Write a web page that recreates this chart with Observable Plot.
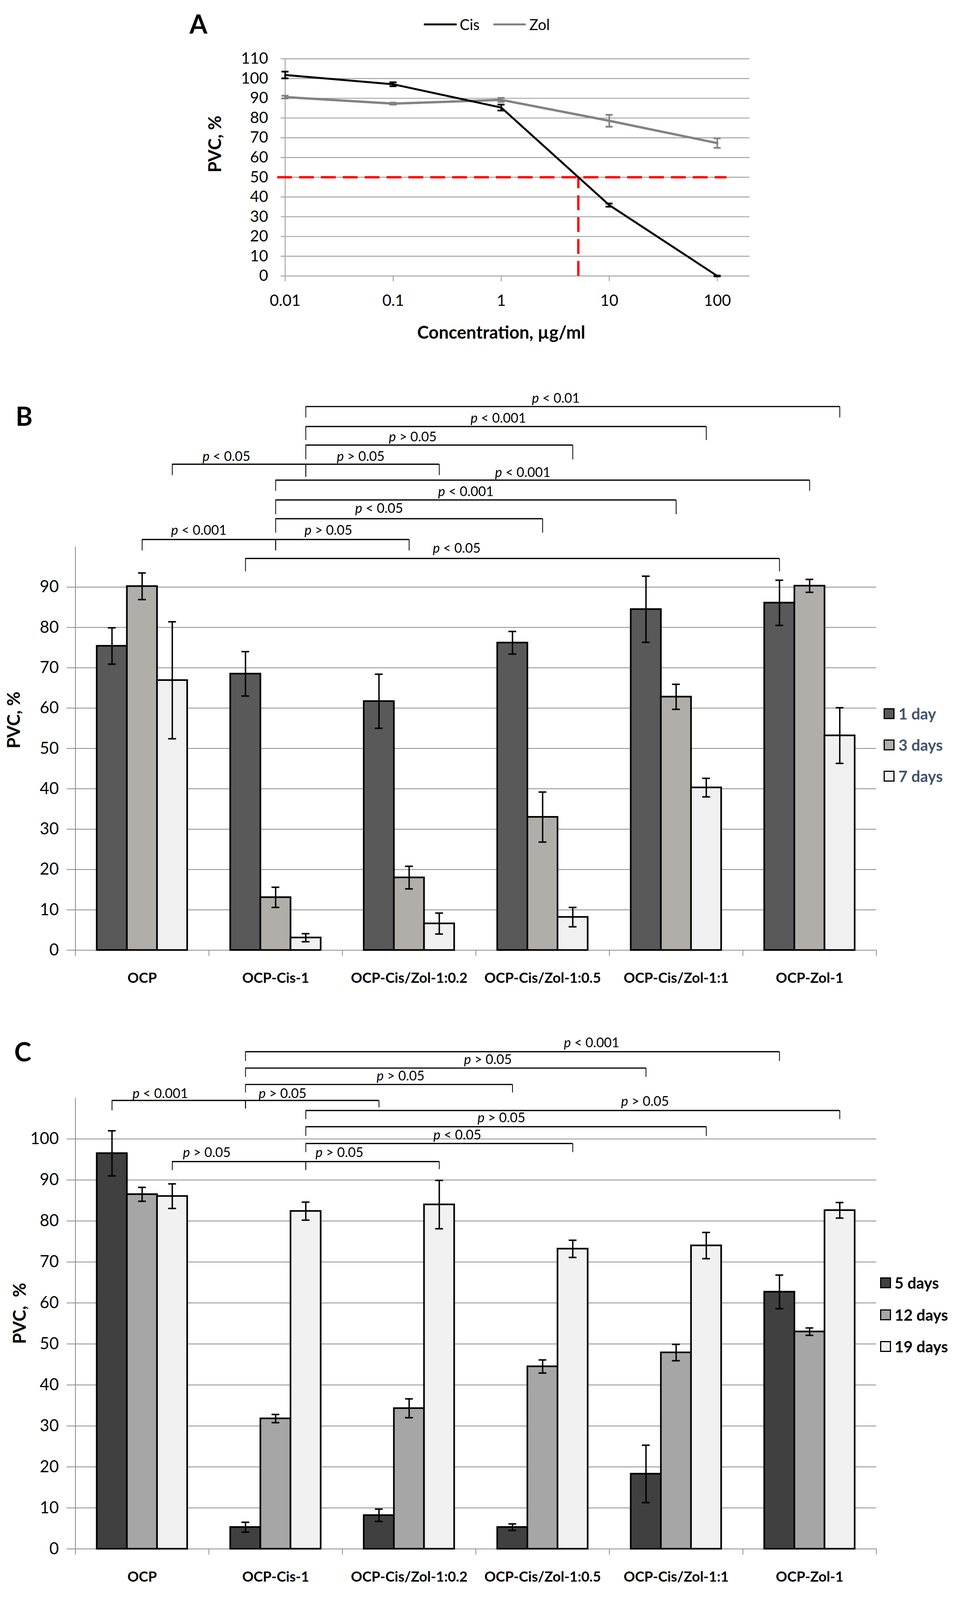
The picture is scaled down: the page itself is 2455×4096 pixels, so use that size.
<!DOCTYPE html>
<html>
<head>
<meta charset="utf-8">
<script src="https://cdn.jsdelivr.net/npm/d3@7"></script>
<script src="https://cdn.jsdelivr.net/npm/@observablehq/plot@0.6"></script>
<style>
  html, body { margin: 0; padding: 0; background: #fff; }
  #page { position: relative; width: 2455px; height: 4096px; background: #fff; overflow: hidden; font-family: Lato, sans-serif; }
  #page svg { overflow: visible; }
</style>
</head>
<body>
<div id="page"></div>
<script>
// ================= DATA =================
// Panel A: viability vs concentration (log scale)
const concentrations = [0.01, 0.1, 1, 10, 100];
const concLabels = ["0.01", "0.1", "1", "10", "100"];
const drugNames = ["Cis", "Zol"];
const cisMean = [101.8, 97.1, 85.3, 35.9, 0];
const cisErr  = [1.7, 1.0, 1.5, 0.8, 0.2];
const zolMean = [90.6, 87.3, 89.2, 78.6, 67.3];
const zolErr  = [0.7, 0.5, 1.0, 3.0, 2.4];
const ic50Cis = 5.17;     // concentration where Cis reaches 50 %
const halfLevel = 50;
const yTicksA = [0, 10, 20, 30, 40, 50, 60, 70, 80, 90, 100, 110];

// Shared categories for panels B and C
const categories = ["OCP", "OCP-Cis-1", "OCP-Cis/Zol-1:0.2", "OCP-Cis/Zol-1:0.5", "OCP-Cis/Zol-1:1", "OCP-Zol-1"];

// Panel B
const seriesB = ["1 day", "3 days", "7 days"];
const b1day    = [75.4, 68.5, 61.7, 76.2, 84.5, 86.1];
const b1dayErr = [4.5, 5.5, 6.7, 2.8, 8.2, 5.6];
const b3day    = [90.2, 13.1, 18.0, 33.0, 62.8, 90.3];
const b3dayErr = [3.3, 2.5, 2.8, 6.2, 3.1, 1.6];
const b7day    = [66.9, 3.1, 6.6, 8.2, 40.3, 53.2];
const b7dayErr = [14.5, 1.0, 2.6, 2.4, 2.3, 6.9];
const yTicksB = [0, 10, 20, 30, 40, 50, 60, 70, 80, 90];
// brackets: [category, series] at each end, bracket level, leg ends, label, label anchor
const bracketsB = [
  {from: [1, 2], to: [5, 2], y: 134.75, legFrom: 132.0, legTo: 132.0, label: "p < 0.01",  lx: 3.599, ly: 136.7},
  {from: [1, 2], to: [4, 2], y: 129.8,  legFrom: 126.4, legTo: 126.4, label: "p < 0.001", lx: 3.168, ly: 131.85},
  {from: [1, 2], to: [3, 2], y: 125.2,  legFrom: 121.6, legTo: 121.6, label: "p > 0.05",  lx: 2.527, ly: 127.15},
  {from: [0, 2], to: [1, 2], y: 120.45, legFrom: 117.7, legTo: 117.3, label: "p < 0.05",  lx: 1.131, ly: 122.3},
  {from: [1, 2], to: [2, 2], y: 120.45, legFrom: 117.3, legTo: 117.7, label: "p > 0.05",  lx: 2.137, ly: 122.3},
  {from: [1, 1], to: [5, 1], y: 116.5,  legFrom: 113.8, legTo: 113.8, label: "p < 0.001", lx: 3.351, ly: 118.35},
  {from: [1, 1], to: [4, 1], y: 111.6,  legFrom: 108.0, legTo: 108.0, label: "p < 0.001", lx: 2.925, ly: 113.65},
  {from: [1, 1], to: [3, 1], y: 106.95, legFrom: 103.45, legTo: 103.45, label: "p < 0.05", lx: 2.275, ly: 109.4},
  {from: [0, 1], to: [1, 1], y: 101.8,  legFrom: 99.05, legTo: 99.05, label: "p < 0.001", lx: 0.925, ly: 104.05},
  {from: [1, 1], to: [2, 1], y: 101.8,  legFrom: 99.05, legTo: 99.05, label: "p > 0.05",  lx: 1.895, ly: 104.05},
  {from: [1, 0], to: [5, 0], y: 97.1,   legFrom: 93.85, legTo: 93.85, label: "p < 0.05",  lx: 2.856, ly: 99.6}
];

// Panel C
const seriesC = ["5 days", "12 days", "19 days"];
const c5day     = [96.5, 5.3, 8.2, 5.3, 18.3, 62.7];
const c5dayErr  = [5.5, 1.2, 1.5, 0.8, 7.0, 4.1];
const c12day    = [86.5, 31.8, 34.3, 44.5, 47.9, 53.0];
const c12dayErr = [1.7, 1.0, 2.3, 1.6, 2.0, 0.9];
const c19day    = [86.05, 82.4, 84.0, 73.2, 74.0, 82.6];
const c19dayErr = [3.0, 2.2, 5.9, 2.1, 3.2, 1.9];
const yTicksC = [0, 10, 20, 30, 40, 50, 60, 70, 80, 90, 100];
const bracketsC = [
  {from: [1, 0], to: [5, 0], y: 121.3, legFrom: 119.0, legTo: 119.0, label: "p < 0.001", lx: 3.867, ly: 123.4},
  {from: [1, 0], to: [4, 0], y: 117.3, legFrom: 115.1, legTo: 115.1, label: "p > 0.05",  lx: 3.090, ly: 119.3},
  {from: [1, 0], to: [3, 0], y: 113.3, legFrom: 111.3, legTo: 111.3, label: "p > 0.05",  lx: 2.436, ly: 115.35},
  {from: [0, 0], to: [1, 0], y: 109.4, legFrom: 106.95, legTo: 107.4, label: "p < 0.001", lx: 0.636, ly: 111.05},
  {from: [1, 0], to: [2, 0], y: 109.4, legFrom: 107.4, legTo: 107.65, label: "p > 0.05", lx: 1.552, ly: 111.05},
  {from: [1, 2], to: [5, 2], y: 106.95, legFrom: 104.8, legTo: 104.8, label: "p > 0.05", lx: 4.267, ly: 109.1},
  {from: [1, 2], to: [4, 2], y: 103.0, legFrom: 100.7, legTo: 100.7, label: "p > 0.05",  lx: 3.191, ly: 105.1},
  {from: [1, 2], to: [3, 2], y: 98.9,  legFrom: 96.75, legTo: 96.75, label: "p < 0.05",  lx: 2.861, ly: 100.9},
  {from: [0, 2], to: [1, 2], y: 94.5,  legFrom: 92.35, legTo: 92.35, label: "p > 0.05",  lx: 0.984, ly: 96.65},
  {from: [1, 2], to: [2, 2], y: 94.5,  legFrom: 92.6,  legTo: 92.6,  label: "p > 0.05",  lx: 1.978, ly: 96.65}
];

// ================= STYLE / LAYOUT =================
const FONT = "Lato, 'Open Sans', sans-serif";
const colorsB = ["#595959", "#afaea9", "#f0f0f0"];
const colorsC = ["#404040", "#a6a6a6", "#f1f1f1"];
const gridColor = "#8a8a8a";
const gridA = "#a3a3a3";
const barW = 0.2258;   // bar width as fraction of a category slot

const page = document.getElementById("page");

function placeSvg(svg, top) {
  svg.style.position = "absolute";
  svg.style.left = "0px";
  svg.style.top = top + "px";
  page.appendChild(svg);
}
function htmlText(txt, o) {
  const d = document.createElement("div");
  d.textContent = txt;
  Object.assign(d.style, {
    position: "absolute", top: o.cy + "px", left: (o.cx != null ? o.cx : o.left) + "px",
    fontSize: o.size + "px", lineHeight: o.size + "px", fontWeight: o.weight || "normal",
    color: o.color || "#000", whiteSpace: "pre", fontFamily: FONT,
    transform: o.cx != null ? "translate(-50%,-50%)" : "translate(0,-50%)"
  });
  page.appendChild(d);
}
function htmlBox(o) {
  const d = document.createElement("div");
  Object.assign(d.style, {position: "absolute", left: o.left + "px", top: o.top + "px",
    width: o.w + "px", height: o.h + "px", background: o.bg, border: o.border || "none", boxSizing: "border-box"});
  page.appendChild(d);
}
function italicP(svg) {
  svg.querySelectorAll("text").forEach(t => {
    const s = t.textContent;
    if (/^p [<>]/.test(s)) {
      t.textContent = "";
      const ns = "http://www.w3.org/2000/svg";
      const a = document.createElementNS(ns, "tspan");
      a.setAttribute("font-style", "italic");
      a.textContent = "p";
      const b = document.createElementNS(ns, "tspan");
      b.textContent = s.slice(1);
      t.appendChild(a); t.appendChild(b);
      t.setAttribute("style", "white-space: pre");
    }
  });
}

// ================= PANEL A =================
const ptsCis = concentrations.map((c, i) => ({drug: drugNames[0], c, v: cisMean[i], e: cisErr[i]}));
const ptsZol = concentrations.map((c, i) => ({drug: drugNames[1], c, v: zolMean[i], e: zolErr[i]}));
function errA(pts, color) {
  return [
    Plot.ruleX(pts, {x: "c", y1: d => d.v - d.e, y2: d => d.v + d.e, stroke: color, strokeWidth: 4}),
    Plot.ruleY(pts, {y: d => d.v + d.e, x1: "c", x2: "c", insetLeft: -9, insetRight: -9, stroke: color, strokeWidth: 4.5}),
    Plot.ruleY(pts, {y: d => d.v - d.e, x1: "c", x2: "c", insetLeft: -9, insetRight: -9, stroke: color, strokeWidth: 4.5})
  ];
}
const plotA = Plot.plot({
  width: 2455, height: 960,
  marginLeft: 729.5, marginRight: 619.2, marginTop: 150, marginBottom: 254,
  x: {type: "log", domain: [concentrations[0], concentrations[4]]},
  y: {domain: [0, 110]},
  style: {fontFamily: FONT, fontSize: "40px", color: "#000", background: "transparent", overflow: "visible"},
  marks: [
    Plot.ruleY(yTicksA, {stroke: gridA, strokeWidth: 2.4, insetLeft: -11, insetRight: -83}),
    Plot.ruleX([concentrations[0]], {y1: 0, y2: 110, stroke: gridA, strokeWidth: 2.4}),
    Plot.axisX({ticks: concentrations, tickFormat: d => concLabels[concentrations.indexOf(d)], tickSize: 14, tickPadding: 34, stroke: gridA, strokeWidth: 2.4, label: null, fontSize: 40}),
    Plot.axisY({ticks: yTicksA, tickSize: 0, tickPadding: 43.5, label: null, fontSize: 40}),
    Plot.ruleY([halfLevel], {x1: concentrations[0], x2: concentrations[4], stroke: "#ff0000", strokeWidth: 6, strokeDasharray: "38,18", insetLeft: -20, insetRight: -24}),
    Plot.ruleX([ic50Cis], {y1: 0, y2: halfLevel, stroke: "#ff0000", strokeWidth: 6, strokeDasharray: "38,18"}),
    Plot.line(ptsZol, {x: "c", y: "v", stroke: "#828282", strokeWidth: 6}),
    Plot.line(ptsCis, {x: "c", y: "v", stroke: "#000", strokeWidth: 5}),
    ...errA(ptsZol, "#828282"),
    ...errA(ptsCis, "#000"),
    Plot.text(["PVC, %"], {text: d => d, frameAnchor: "left", dx: -178.5, dy: 13, rotate: -90, fontWeight: "bold", fontSize: 45, fill: "#000"}),
    Plot.text(["Concentration, µg/ml"], {text: d => d, x: 1, frameAnchor: "bottom", dy: 146, fontWeight: "bold", fontSize: 45, lineAnchor: "middle", fill: "#000"})
  ]
});
placeSvg(plotA, 0);

// Panel A legend + letter
htmlText("A", {cx: 508, cy: 61, size: 66, weight: "bold"});
htmlBox({left: 1084.6, top: 60, w: 84.4, h: 4.5, bg: "#000"});
htmlText(drugNames[0], {left: 1176.8, cy: 62, size: 38});
htmlBox({left: 1262.5, top: 59.5, w: 83, h: 5.5, bg: "#828282"});
htmlText(drugNames[1], {left: 1355, cy: 62, size: 38});

// ================= BAR PANELS =================
function makeBars(seriesNames, vals, errs) {
  const out = [];
  categories.forEach((cat, i) => {
    seriesNames.forEach((s, j) => {
      const xc = i + 0.5 + (j - 1) * barW;
      out.push({cat, series: s, xc, x1: xc - barW / 2, x2: xc + barW / 2, v: vals[j][i], e: errs[j][i]});
    });
  });
  return out;
}
const bx = ([c, s]) => c + 0.5 + (s - 1) * barW;
function bracketMarks(brs) {
  return [
    Plot.ruleY(brs, {y: "y", x1: d => bx(d.from), x2: d => bx(d.to), stroke: "#000", strokeWidth: 3.2}),
    Plot.ruleX(brs, {x: d => bx(d.from), y1: "legFrom", y2: "y", stroke: "#000", strokeWidth: 2}),
    Plot.ruleX(brs, {x: d => bx(d.to), y1: "legTo", y2: "y", stroke: "#000", strokeWidth: 2}),
    Plot.text(brs, {x: "lx", y: "ly", text: "label", fontSize: 34, lineAnchor: "middle", fill: "#000"})
  ];
}
function errBars(bars) {
  return [
    Plot.ruleX(bars, {x: "xc", y1: d => d.v - d.e, y2: d => d.v + d.e, stroke: "#000", strokeWidth: 3.6}),
    Plot.ruleY(bars, {y: d => d.v + d.e, x1: "xc", x2: "xc", insetLeft: -10, insetRight: -10, stroke: "#000", strokeWidth: 3.8}),
    Plot.ruleY(bars, {y: d => d.v - d.e, x1: "xc", x2: "xc", insetLeft: -10, insetRight: -10, stroke: "#000", strokeWidth: 3.8})
  ];
}
function barPanel(cfg) {
  const bars = makeBars(cfg.series, cfg.vals, cfg.errs);
  const svg = Plot.plot({
    width: 2455, height: cfg.height,
    marginLeft: 192.5, marginRight: 212, marginTop: cfg.marginTop, marginBottom: cfg.marginBottom,
    x: {domain: [0, categories.length]},
    y: {domain: cfg.yDomain},
    color: {domain: cfg.series, range: cfg.colors},
    style: {fontFamily: FONT, fontSize: "42px", color: "#000", background: "transparent", overflow: "visible"},
    marks: [
      Plot.ruleY(cfg.yTicks, {stroke: gridColor, strokeWidth: 2, insetLeft: -22}),
      Plot.ruleX([0], {y1: 0, y2: cfg.axisTop, stroke: gridColor, strokeWidth: 2}),
      Plot.axisX({ticks: d3.range(0, categories.length + 1), tickSize: 15, tickFormat: () => "", stroke: gridColor, strokeWidth: 2, label: null}),
      Plot.axisX({ticks: categories.map((c, i) => i + 0.5), tickSize: 0, tickPadding: 58, tickFormat: d => categories[Math.floor(d)], fontWeight: "bold", fontSize: 36, label: null}),
      Plot.axisY({ticks: cfg.yTicks, tickSize: 0, tickPadding: 42.5, fontSize: 42, label: null}),
      Plot.rectY(bars, {x1: "x1", x2: "x2", y1: 0, y2: "v", fill: "series", stroke: "#000", strokeWidth: 4.2}),
      ...errBars(bars),
      ...bracketMarks(cfg.brackets),
      Plot.text([cfg.yTitle], {text: d => d, y: 50, frameAnchor: "left", dx: cfg.titleDx, rotate: -90, fontWeight: "bold", fontSize: 45, fill: "#000"})
    ]
  });
  italicP(svg);
  placeSvg(svg, cfg.top);
}

// Panel B
barPanel({
  top: 980, height: 1600, marginTop: 6, marginBottom: 148, yDomain: [0, 140], axisTop: 100,
  series: seriesB, colors: colorsB,
  vals: [b1day, b3day, b7day], errs: [b1dayErr, b3dayErr, b7dayErr],
  yTicks: yTicksB, brackets: bracketsB, yTitle: "PVC, %", titleDx: -156
});
htmlText("B", {left: 40, cy: 1065, size: 66, weight: "bold"});
seriesB.forEach((s, j) => {
  const cy = [1826.6, 1907, 1987][j];
  htmlBox({left: 2261.6, top: cy - 14, w: 28, h: 28, bg: colorsB[j], border: "3.4px solid #000"});
  htmlText(s, {left: 2300, cy, size: 40, weight: "bold", color: "#44546a"});
});

// Panel C
barPanel({
  top: 2580, height: 1516, marginTop: 20.5, marginBottom: 131.3, yDomain: [0, 130], axisTop: 110,
  series: seriesC, colors: colorsC,
  vals: [c5day, c12day, c19day], errs: [c5dayErr, c12dayErr, c19dayErr],
  yTicks: yTicksC, brackets: bracketsC, yTitle: "PVC,  %", titleDx: -141.8
});
htmlText("C", {left: 36.5, cy: 2692, size: 66, weight: "bold"});
seriesC.forEach((s, j) => {
  const cy = [3284, 3366, 3447][j];
  htmlBox({left: 2253, top: cy - 14, w: 28, h: 28, bg: colorsC[j], border: "3.4px solid #000"});
  htmlText(s, {left: 2290, cy, size: 40, weight: "bold", color: "#000"});
});
</script>
</body>
</html>
